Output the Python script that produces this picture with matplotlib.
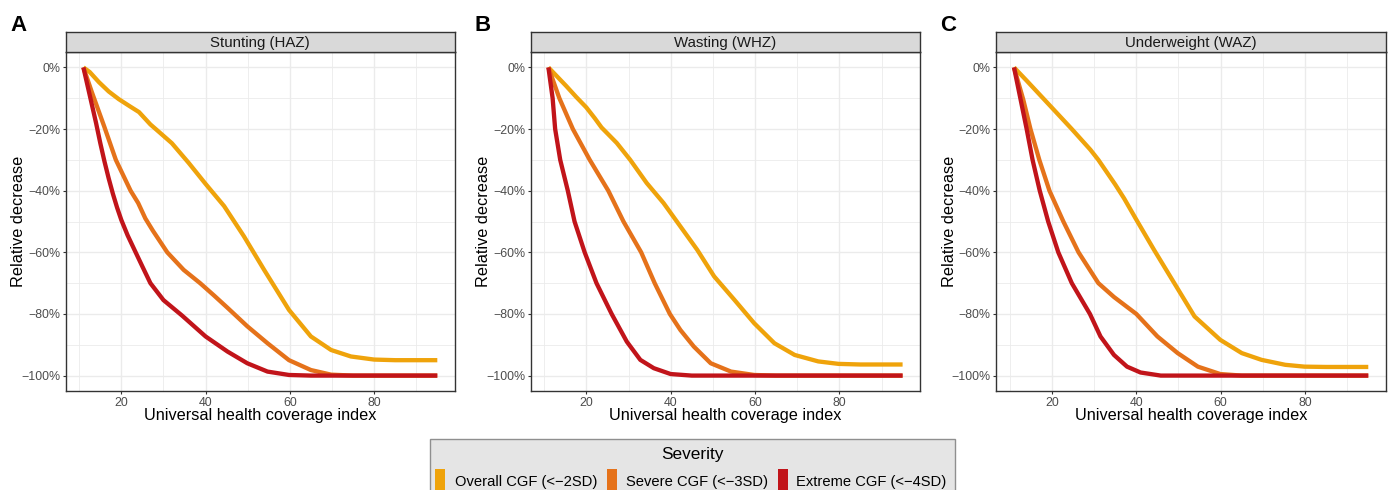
import matplotlib
matplotlib.use("Agg")
import matplotlib.pyplot as plt
from matplotlib.patches import Rectangle
from matplotlib.ticker import PercentFormatter, FixedLocator

plt.rcParams['font.family'] = ['Liberation Sans', 'DejaVu Sans']
plt.rcParams['axes.unicode_minus'] = True

# ---------------- data (UHC index, relative decrease %) ----------------
panel_titles = ["Stunting (HAZ)", "Wasting (WHZ)", "Underweight (WAZ)"]
panel_letters = ["A", "B", "C"]
severity_labels = ["Overall CGF (<\u22122SD)", "Severe CGF (<\u22123SD)", "Extreme CGF (<\u22124SD)"]
severity_colors = ["#EFA30B", "#E5721A", "#C1141A"]

# Stunting
haz_overall_x = [11, 12.5, 14.7, 17, 19.4, 22, 24.2, 26.9, 29, 32, 36, 40, 44.4, 49.1, 53.9, 59.8, 65, 69.8, 74.5, 80, 85, 90, 95]
haz_overall_y = [0, -1.5, -4.8, -7.8, -10.3, -12.6, -14.5, -18.5, -21, -24.6, -31, -37.8, -45, -54.8, -65.7, -78.7, -87.3, -91.7, -93.8, -94.8, -95, -95, -95]
haz_severe_x = [11, 13, 15.9, 18.7, 22.2, 24, 25.7, 27.5, 30.9, 34.8, 38.7, 42, 45.2, 49.9, 54.7, 59.8, 65, 69.8, 75, 80, 95]
haz_severe_y = [0, -8, -19, -30, -40, -44, -49, -53, -60, -65.7, -70, -74, -78, -84, -89.5, -95, -98.2, -99.7, -100, -100, -100]
haz_extreme_x = [11, 12, 13, 14, 15, 16, 17, 18, 19, 20, 21.5, 23.4, 25, 26.9, 30, 34.4, 40, 45.2, 49.9, 54.7, 59.8, 65, 95]
haz_extreme_y = [0, -6, -12, -18, -24.5, -30.5, -36, -41, -45.5, -49.5, -54.5, -60, -64.6, -70, -75.5, -80.5, -87.3, -92.2, -96, -98.7, -99.8, -100, -100]

# Wasting
whz_overall_x = [11, 15.2, 17.6, 20, 22, 23.6, 27.2, 30.4, 34.3, 38.3, 42.3, 46.3, 50.3, 55.1, 59.8, 64.6, 69.4, 75, 79.8, 85, 90, 95]
whz_overall_y = [0, -6, -9.6, -13, -16.5, -19.5, -24.5, -30, -37.5, -44, -51.6, -59.2, -67.8, -75.4, -83, -89.5, -93.3, -95.4, -96.2, -96.4, -96.4, -96.4]
whz_severe_x = [11, 13.6, 16.8, 20.8, 25.2, 28.8, 33, 36.2, 39.8, 42.3, 45.5, 49.5, 54.3, 59.8, 65, 95]
whz_severe_y = [0, -10, -20, -30, -40, -50, -60, -70, -80, -85.2, -90.6, -96, -98.7, -99.8, -100, -100]
whz_extreme_x = [11, 12.0, 12.6, 13.8, 15.6, 17.2, 19.6, 22.4, 26, 29.6, 32.8, 36, 40, 45, 95]
whz_extreme_y = [0, -10, -20, -30, -40, -50, -60, -70, -80, -89, -94.9, -97.6, -99.5, -100, -100]

# Underweight
waz_overall_x = [11, 14, 17, 20, 24.7, 29.1, 31, 35, 37.1, 40, 44.2, 49, 53.8, 59.9, 65, 69.7, 75.3, 79.9, 85, 90, 95]
waz_overall_y = [0, -4.3, -8.7, -13.1, -20, -26.7, -30, -38, -42.5, -49.4, -59.2, -70, -80.8, -88.4, -92.7, -94.9, -96.5, -97.1, -97.2, -97.2, -97.2]
waz_severe_x = [11, 13.2, 14.9, 17, 19.4, 22.7, 26.3, 31, 34.7, 40, 45, 49.8, 54.6, 59.9, 65, 95]
waz_severe_y = [0, -10.5, -20, -30, -40, -50, -60, -70, -74.5, -80, -87.3, -92.7, -97.1, -99.5, -100, -100]
waz_extreme_x = [11, 12.5, 14, 15.4, 17.1, 19.1, 21.5, 24.7, 29, 31.5, 34.7, 37.8, 41, 45.8, 95]
waz_extreme_y = [0, -10, -20, -30, -40, -50, -60, -70, -80, -87.3, -93.3, -97.1, -99, -100, -100]

x_ticks = [20, 40, 60, 80]
y_ticks = [0, -20, -40, -60, -80, -100]

panels = [
    [(haz_overall_x, haz_overall_y), (haz_severe_x, haz_severe_y), (haz_extreme_x, haz_extreme_y)],
    [(whz_overall_x, whz_overall_y), (whz_severe_x, whz_severe_y), (whz_extreme_x, whz_extreme_y)],
    [(waz_overall_x, waz_overall_y), (waz_severe_x, waz_severe_y), (waz_extreme_x, waz_extreme_y)],
]

# ---------------- layout ----------------
W, H = 1393, 490
fig = plt.figure(figsize=(W / 100, H / 100), dpi=100)


def frect(l, t, r, b):
    return [l / W, 1 - b / H, (r - l) / W, (b - t) / H]


lefts = [65.7, 530.7, 996.3]
rights = [455.0, 920.3, 1386.0]
top, bottom, strip_top = 52.0, 391.0, 32.0
letter_x = [10, 475, 940]

dark = "#333333"
grid_col = "#EBEBEB"

for i, series in enumerate(panels):
    l, r = lefts[i], rights[i]
    ax = fig.add_axes(frect(l, top, r, bottom))
    for (xs, ys), col in zip(series, severity_colors):
        ax.plot(xs, ys, color=col, lw=3.1, solid_capstyle='butt', solid_joinstyle='round', zorder=3)
    xmin, xmax = 11, 95
    ex = (xmax - xmin) * 0.05
    ax.set_xlim(xmin - ex, xmax + ex)
    ax.set_ylim(-105, 5)
    ax.xaxis.set_major_locator(FixedLocator(x_ticks))
    ax.yaxis.set_major_locator(FixedLocator(y_ticks))
    ax.xaxis.set_minor_locator(FixedLocator([10, 30, 50, 70, 90]))
    ax.yaxis.set_minor_locator(FixedLocator([-10, -30, -50, -70, -90]))
    ax.yaxis.set_major_formatter(PercentFormatter(xmax=100, decimals=0))
    ax.grid(which='major', color=grid_col, lw=1.0, zorder=0)
    ax.grid(which='minor', color=grid_col, lw=0.6, zorder=0)
    ax.set_axisbelow(True)
    ax.tick_params(which='major', direction='out', length=2.5, width=0.8, color=dark,
                   labelsize=8.9, labelcolor="#4D4D4D", pad=1.5)
    ax.tick_params(which='minor', length=0)
    for s in ax.spines.values():
        s.set_color(dark)
        s.set_linewidth(1.0)
    ax.set_facecolor("white")

    # strip
    sax = fig.add_axes(frect(l, strip_top, r, top))
    sax.set_facecolor("#D9D9D9")
    sax.set_xticks([])
    sax.set_yticks([])
    for s in sax.spines.values():
        s.set_color(dark)
        s.set_linewidth(1.0)
    sax.text(0.5, 0.45, panel_titles[i], ha='center', va='center', fontsize=10.8, color="#1A1A1A",
             transform=sax.transAxes)

    # axis titles
    cx = (l + r) / 2
    fig.text(cx / W, 1 - 419.5 / H, "Universal health coverage index", ha='center', va='baseline',
             fontsize=11.7, color='black')
    fig.text((l - 47) / W, 1 - ((top + bottom) / 2) / H, "Relative decrease", ha='center', va='center',
             rotation=90, fontsize=11.7, color='black')
    # panel letter
    fig.text(letter_x[i] / W, 1 - 31 / H, panel_letters[i], ha='left', va='baseline',
             fontsize=16, fontweight='bold', color='black')

# ---------------- legend ----------------
ov = fig.add_axes([0, 0, 1, 1], zorder=10)
ov.set_xlim(0, W)
ov.set_ylim(H, 0)
ov.axis('off')
ov.add_patch(Rectangle((429.5, 439), 525.5, 70, facecolor="#E5E5E5", edgecolor="#8F8F8F", lw=1.0,
                       clip_on=False))
ov.text(692, 459, "Severity", ha='center', va='baseline', fontsize=12.4, color='black')
key_x = [435, 607, 778]
text_x = [455, 626.5, 796.5]
for kx, tx, col, lab in zip(key_x, text_x, severity_colors, severity_labels):
    ov.add_patch(Rectangle((kx, 469), 10, 30, facecolor=col, edgecolor='none', clip_on=False))
    ov.text(tx, 485.5, lab, ha='left', va='baseline', fontsize=10.6, color='black')

fig.savefig("out.png", dpi=100)
